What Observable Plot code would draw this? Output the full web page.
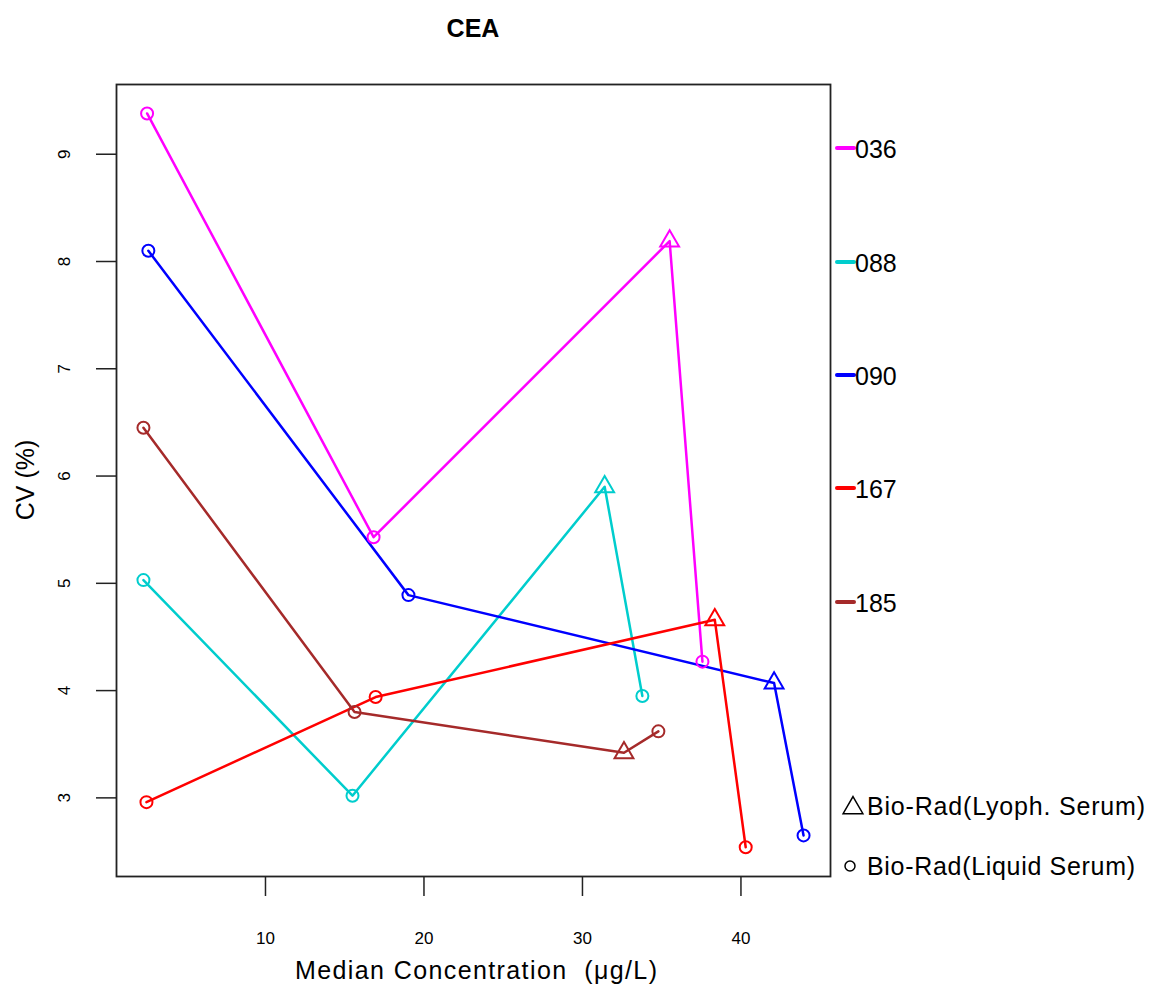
<!DOCTYPE html>
<html>
<head>
<meta charset="utf-8">
<script src="https://cdn.jsdelivr.net/npm/d3@7"></script>
<script src="https://cdn.jsdelivr.net/npm/@observablehq/plot@0.6"></script>
<style>
  html, body { margin: 0; padding: 0; background: #fff; }
  #chart { width: 1152px; height: 990px; }
</style>
</head>
<body>
<div id="chart"></div>
<script>
// ---- data ----
const labs = ["036", "088", "090", "167", "185"];
const colors = ["#FF00FF", "#00CDCD", "#0000FF", "#FF0000", "#A52A2A"];
const materials = ["Liquid", "Liquid", "Lyoph", "Liquid"]; // per point in each series
const conc036 = [2.53, 16.82, 35.50, 37.57];
const cv036   = [9.38, 5.43, 8.19, 4.27];
const conc088 = [2.30, 15.49, 31.40, 33.78];
const cv088   = [5.03, 3.02, 5.90, 3.95];
const conc090 = [2.61, 19.02, 42.09, 43.95];
const cv090   = [8.10, 4.89, 4.07, 2.65];
const conc167 = [2.49, 16.95, 38.35, 40.30];
const cv167   = [2.96, 3.94, 4.66, 2.54];
const conc185 = [2.30, 15.62, 32.62, 34.79];
const cv185   = [6.45, 3.80, 3.42, 3.62];
const xTicks = [10, 20, 30, 40];
const yTicks = [3, 4, 5, 6, 7, 8, 9];
const legendShapes = ["Bio-Rad(Lyoph. Serum)", "Bio-Rad(Liquid Serum)"];

const concs = [conc036, conc088, conc090, conc167, conc185];
const cvs = [cv036, cv088, cv090, cv167, cv185];
const rows = [];
labs.forEach((lab, i) => {
  concs[i].forEach((c, j) => rows.push({lab, conc: c, cv: cvs[i][j], mat: materials[j]}));
});

const font = "'Liberation Sans', Arial, Helvetica, sans-serif";
const W = 1152, H = 990;
const mL = 116, mR = 322, mT = 84, mB = 114;
const tickFont = 17;

const svg = Plot.plot({
  width: W, height: H,
  marginLeft: mL, marginRight: mR, marginTop: mT, marginBottom: mB,
  style: {fontFamily: font, fontSize: tickFont + "px", background: "#fff", color: "#000"},
  x: {domain: [0.6, 45.65]},
  y: {domain: [2.267, 9.65]},
  color: {domain: labs, range: colors},
  marks: [
    Plot.axisX({ticks: xTicks, tickSize: 20, tickPadding: 35, fontSize: tickFont, label: null, stroke: "#222", strokeWidth: 1.5}),
    Plot.axisY({ticks: yTicks, tickSize: 20, tickFormat: () => "", label: null, stroke: "#222", strokeWidth: 1.5}),
    Plot.text(yTicks, {y: d => d, text: d => String(d), frameAnchor: "left", dx: -52, rotate: -90,
      textAnchor: "middle", lineAnchor: "middle", fontSize: tickFont, fill: "#000"}),
    Plot.line(rows, {x: "conc", y: "cv", z: "lab", stroke: "lab", strokeWidth: 2.5}),
    Plot.dot(rows.filter(d => d.mat === "Liquid"), {x: "conc", y: "cv", stroke: "lab", symbol: "circle", r: 6, strokeWidth: 2, fill: "none"}),
    Plot.dot(rows.filter(d => d.mat === "Lyoph"), {x: "conc", y: "cv", stroke: "lab", symbol: "triangle", r: 7, strokeWidth: 2, fill: "none"}),
    Plot.frame({stroke: "#222", strokeWidth: 1.8})
  ]
});

const s = d3.select(svg);
// make sure the tick labels drawn by Plot render at the reference size
s.selectAll("text").style("font-size", tickFont + "px");

function txt(x, y, str, size, anchor, opts = {}) {
  const t = s.append("text").attr("x", x).attr("y", y).attr("text-anchor", anchor)
    .attr("dominant-baseline", "central").attr("font-family", font).style("font-size", size + "px")
    .attr("fill", "#000").text(str);
  if (opts.bold) t.attr("font-weight", "bold");
  if (opts.len) t.attr("textLength", opts.len).attr("lengthAdjust", "spacing");
  if (opts.transform) t.attr("transform", opts.transform).attr("x", 0).attr("y", 0);
  return t;
}
// title
txt(473, 28, "CEA", 25, "middle", {bold: true});
// axis titles
txt(476, 970, "Median Concentration  (μg/L)", 25, "middle", {len: 362});
txt(0, 0, "CV (%)", 25, "middle", {transform: "translate(25,480) rotate(-90)"});

// colour legend
const legY = [148, 262, 375, 488, 602];
labs.forEach((lab, i) => {
  s.append("line").attr("x1", 837).attr("x2", 854).attr("y1", legY[i]).attr("y2", legY[i])
    .attr("stroke", colors[i]).attr("stroke-width", 4).attr("stroke-linecap", "round");
  txt(855, legY[i] + 1, lab, 25, "start");
});
// shape legend
const shapeY = [806, 866];
s.append("path").attr("transform", `translate(853,${shapeY[0] + 2})`)
  .attr("d", d3.symbol(d3.symbolTriangle, 170)()).attr("fill", "none").attr("stroke", "#000").attr("stroke-width", 1.5);
s.append("circle").attr("cx", 850).attr("cy", shapeY[1]).attr("r", 5)
  .attr("fill", "none").attr("stroke", "#000").attr("stroke-width", 1.5);
txt(867, shapeY[0], legendShapes[0], 25, "start", {len: 278});
txt(867, shapeY[1], legendShapes[1], 25, "start", {len: 268});

document.getElementById("chart").appendChild(svg);
</script>
</body>
</html>
